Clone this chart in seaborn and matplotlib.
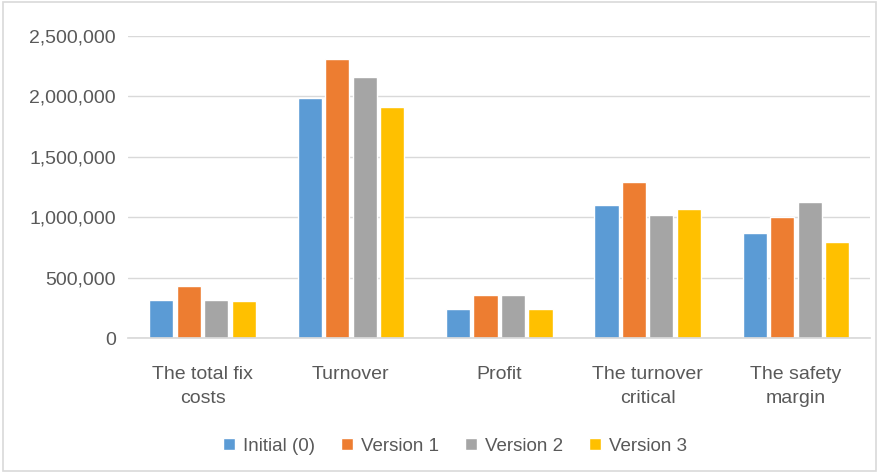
import numpy as np
import pandas as pd
import seaborn as sns
import matplotlib.pyplot as plt
from matplotlib.ticker import FuncFormatter

# ---- data ----
categories = ["The total fix\ncosts", "Turnover", "Profit",
              "The turnover\ncritical", "The safety\nmargin"]
series = ["Initial (0)", "Version 1", "Version 2", "Version 3"]
initial = [315000, 1985000, 240000, 1100000, 870000]
version1 = [430000, 2310000, 356000, 1290000, 1000000]
version2 = [315000, 2160000, 356000, 1018000, 1125000]
version3 = [305000, 1912000, 240000, 1068000, 795000]
colors = ["#5B9BD5", "#ED7D31", "#A5A5A5", "#FFC000"]

rows = []
for name, vals in zip(series, [initial, version1, version2, version3]):
    for c, v in zip(categories, vals):
        rows.append({"category": c, "series": name, "value": v})
df = pd.DataFrame(rows)

sns.set_theme(style="white")
plt.rcParams["font.family"] = ["Liberation Sans", "DejaVu Sans"]
text_col = "#595959"

fig = plt.figure(figsize=(8.79, 4.73), dpi=100)
ax = fig.add_axes([0.146, 0.285, 0.844, 0.639])

sns.barplot(data=df, x="category", y="value", hue="series",
            palette=colors, width=0.74, gap=0.12, ax=ax,
            saturation=1, errorbar=None)

ax.set_ylim(0, 2500000)
ax.set_yticks(np.arange(0, 2500001, 500000))
ax.yaxis.set_major_formatter(FuncFormatter(lambda v, p: f"{int(v):,}"))
ax.grid(axis="y", color="#D9D9D9", linewidth=1)
ax.set_axisbelow(True)
for s in ax.spines.values():
    s.set_visible(False)
ax.spines["bottom"].set_visible(True)
ax.spines["bottom"].set_color("#D9D9D9")
ax.set_xlabel("")
ax.set_ylabel("")
ax.tick_params(axis="both", length=0, colors=text_col, labelsize=14)
ax.tick_params(axis="y", pad=9)
ax.tick_params(axis="x", pad=20)
for lab in ax.get_xticklabels():
    lab.set_linespacing(1.55)

ax.legend(loc="center", bbox_to_anchor=(0.44, -0.357), ncol=4,
          frameon=False, fontsize=13.5, handlelength=0.65, handleheight=0.65,
          columnspacing=1.4, handletextpad=0.4, labelcolor=text_col)

# light border around the whole chart like the office export
fig.patches.append(plt.Rectangle((0.003, 0.004), 0.994, 0.992,
                                 transform=fig.transFigure, fill=False,
                                 edgecolor="#D9D9D9", linewidth=1.2))

fig.savefig("out.png", dpi=100)
